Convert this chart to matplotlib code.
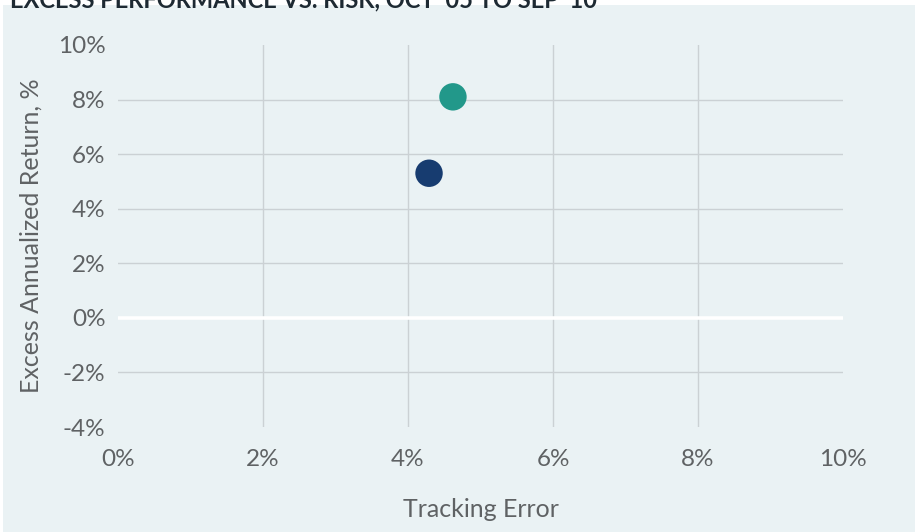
import matplotlib.pyplot as plt
from matplotlib.patches import Rectangle

# Tracking error vs excess annualized return, in percent
tracking_error = [4.62, 4.29]
excess_return = [8.1, 5.3]
point_colors = ['#22988a', '#173c70']

x_ticks = [0, 2, 4, 6, 8, 10]
y_ticks = [-4, -2, 0, 2, 4, 6, 8, 10]

title = "EXCESS PERFORMANCE VS. RISK, OCT '05 TO SEP '10"

plt.rcParams['font.family'] = ['Lato', 'DejaVu Sans']

W, H = 915, 532
fig = plt.figure(figsize=(W / 100, H / 100), dpi=100)
fig.patch.set_facecolor('white')

# light panel behind the chart
fig.patches.append(Rectangle((3 / W, 0), 1, (H - 5) / H, transform=fig.transFigure,
                             facecolor='#eaf2f4', edgecolor='none', zorder=-5))

ax = fig.add_axes([118 / W, (H - 427) / H, (843 - 118) / W, (427 - 45) / H])
ax.set_facecolor('none')
ax.set_xlim(0, 10)
ax.set_ylim(-4, 10)

# inner grid lines only, zero line in white
for x in x_ticks[1:-1]:
    ax.axvline(x, color='#cbd1d4', lw=1.0, zorder=1)
for y in y_ticks[1:-1]:
    if y == 0:
        ax.axhline(y, color='white', lw=2.6, zorder=1)
    else:
        ax.axhline(y, color='#cbd1d4', lw=1.0, zorder=1)

ax.scatter(tracking_error, excess_return, s=390, c=point_colors, zorder=3, linewidths=0)

for s in ax.spines.values():
    s.set_visible(False)
ax.set_xticks(x_ticks)
ax.set_yticks(y_ticks)
ax.set_xticklabels([f'{v}%' for v in x_ticks])
ax.set_yticklabels([f'{v}%' for v in y_ticks])
ax.tick_params(length=0, labelsize=17.5, labelcolor='#5f6264')
ax.tick_params(axis='x', pad=16)
ax.tick_params(axis='y', pad=9)

ax.set_xlabel('Tracking Error', fontsize=18, color='#5f6264', labelpad=20)
ax.set_ylabel('Excess Annualized Return, %', fontsize=18, color='#5f6264', labelpad=11)

fig.text(10 / W, 1 - 7 / H, title, fontsize=17, fontweight='bold', color='#1e2a33',
         ha='left', va='baseline')

fig.savefig('out.png', dpi=100)
